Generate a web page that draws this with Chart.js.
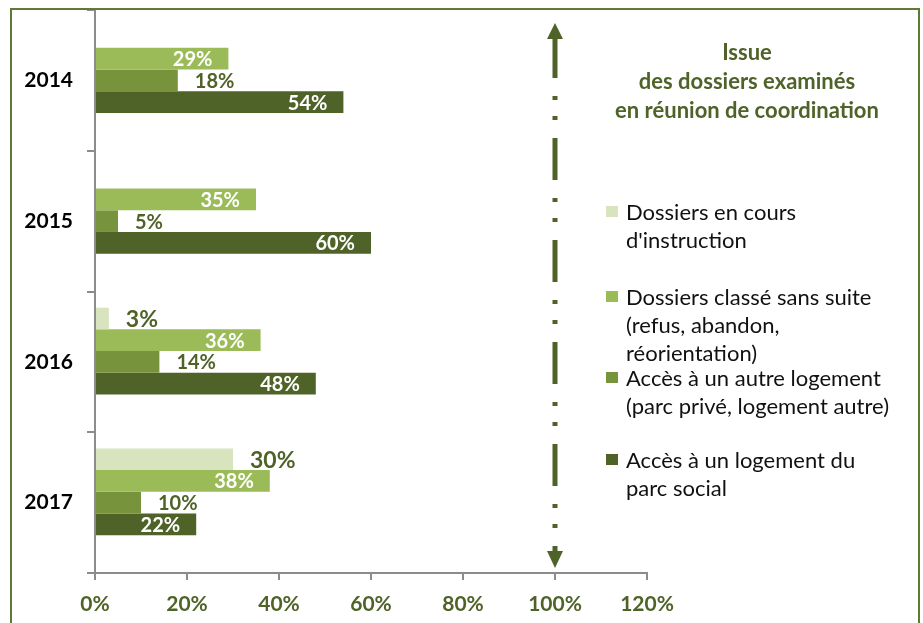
<!DOCTYPE html>
<html><head><meta charset="utf-8">
<script src="https://cdn.jsdelivr.net/npm/chart.js@4.4.1/dist/chart.umd.min.js"></script>
<style>html,body{margin:0;padding:0;background:#fff}#wrap{position:relative;width:923px;height:623px}</style>
</head><body><div id="wrap"><canvas id="c" width="923" height="623"></canvas></div>
<script>
const categories = ['2014', '2015', '2016', '2017'];
const enCours = [null, null, 3, 30];
const sansSuite = [29, 35, 36, 38];
const autreLogement = [18, 5, 14, 10];
const parcSocial = [54, 60, 48, 22];
const xTicks = [0, 20, 40, 60, 80, 100, 120];
const seriesNames = ["Dossiers en cours d'instruction", 'Dossiers classé sans suite (refus, abandon, réorientation)', 'Accès à un autre logement (parc privé, logement autre)', 'Accès à un logement du parc social'];
const legendLines = [
  ['Dossiers en cours', "d'instruction"],
  ['Dossiers classé sans suite', '(refus, abandon,', 'réorientation)'],
  ['Accès à un autre logement', '(parc privé, logement autre)'],
  ['Accès à un logement du', 'parc social']
];
const titleLines = ['Issue', 'des dossiers examinés', 'en réunion de coordination'];
const arrowValue = 100;

const COLORS = ['#d7e4bd', '#9bbb59', '#77933c', '#4f6228'];
const GREEN = '#4f6228';
const GREY = '#8c8c8c';
const FONT = 'Lato, "Open Sans", sans-serif';

const labelPlugin = {
  id: 'labels',
  afterDatasetsDraw(chart) {
    const ctx = chart.ctx;
    ctx.save();
    ctx.textBaseline = 'middle';
    chart.data.datasets.forEach((ds, di) => {
      if (di > 3) return;
      const meta = chart.getDatasetMeta(di);
      meta.data.forEach((el, i) => {
        const v = ds.data[i];
        if (v == null) return;
        const inside = (di === 1 || di === 3);
        ctx.font = (di === 0 ? 'bold 23px ' : 'bold 20px ') + FONT;
        if (inside) {
          ctx.fillStyle = '#ffffff';
          ctx.textAlign = 'right';
          ctx.fillText(Math.round(v) + '%', el.x - 16, el.y + 1);
        } else {
          ctx.fillStyle = GREEN;
          ctx.textAlign = 'left';
          ctx.fillText(Math.round(v) + '%', el.x + 17, el.y + 1);
        }
      });
    });
    ctx.restore();
  }
};

const decorPlugin = {
  id: 'decor',
  afterDraw(chart) {
    const ctx = chart.ctx;
    const xs = chart.scales.x;
    ctx.save();
    // outer frame
    ctx.strokeStyle = '#5f7a32';
    ctx.lineWidth = 2;
    ctx.strokeRect(11, 9, 908, 660);
    // dash-dot arrow at 100%
    const ax = xs.getPixelForValue(arrowValue);
    ctx.strokeStyle = GREEN;
    ctx.fillStyle = GREEN;
    ctx.lineWidth = 5;
    ctx.setLineDash([42, 18, 4, 16, 4, 18]);
    ctx.beginPath();
    ctx.moveTo(ax, 36);
    ctx.lineTo(ax, 552);
    ctx.stroke();
    ctx.setLineDash([]);
    ctx.beginPath();
    ctx.moveTo(ax, 23); ctx.lineTo(ax - 8, 39); ctx.lineTo(ax + 8, 39); ctx.closePath(); ctx.fill();
    ctx.beginPath();
    ctx.moveTo(ax, 568); ctx.lineTo(ax - 8, 551); ctx.lineTo(ax + 8, 551); ctx.closePath(); ctx.fill();
    // title
    ctx.font = 'bold 22px ' + FONT;
    ctx.textAlign = 'center';
    ctx.textBaseline = 'alphabetic';
    const tBase = [60, 89, 118];
    titleLines.forEach((t, i) => ctx.fillText(t, 747, tBase[i]));
    // legend
    ctx.font = '22px ' + FONT;
    ctx.textAlign = 'left';
    const firstBase = [220, 305, 386, 468];
    legendLines.forEach((lines, k) => {
      ctx.fillStyle = COLORS[k];
      ctx.fillRect(606, firstBase[k] - 14, 12, 11);
      ctx.fillStyle = '#111';
      lines.forEach((ln, j) => ctx.fillText(ln, 626, firstBase[k] + j * 28));
    });
    ctx.restore();
  }
};

new Chart(document.getElementById('c'), {
  type: 'bar',
  data: {
    labels: categories,
    datasets: [
      { label: seriesNames[0], data: enCours, backgroundColor: COLORS[0] },
      { label: seriesNames[1], data: sansSuite, backgroundColor: COLORS[1] },
      { label: seriesNames[2], data: autreLogement, backgroundColor: COLORS[2] },
      { label: seriesNames[3], data: parcSocial, backgroundColor: COLORS[3] },
      { label: '', data: categories.map(() => null), backgroundColor: 'rgba(0,0,0,0)' }
    ]
  },
  options: {
    indexAxis: 'y',
    responsive: false,
    animation: false,
    devicePixelRatio: 1,
    categoryPercentage: 0.77,
    barPercentage: 1,
    layout: { padding: { left: 0, right: 276, top: 10, bottom: 0 } },
    plugins: { legend: { display: false }, tooltip: { enabled: false }, title: { display: false } },
    scales: {
      x: {
        type: 'linear', min: 0, max: 120,
        afterBuildTicks: (s) => { s.ticks = xTicks.map(v => ({ value: v })); },
        afterFit: (s) => { s.height = 50; },
        ticks: { callback: (v) => v + '%', color: GREEN, font: { family: FONT, size: 21, weight: 'bold' }, padding: 12, maxRotation: 0 },
        grid: { drawOnChartArea: false, drawTicks: true, tickLength: 7, color: GREY, lineWidth: 2 },
        border: { display: true, color: GREY, width: 2 }
      },
      y: {
        type: 'category',
        afterFit: (s) => { s.width = 95; s.paddingTop = 0; s.paddingBottom = 0; },
        ticks: { color: '#000', font: { family: FONT, size: 21, weight: 'bold' }, padding: 14 },
        grid: { offset: true, drawOnChartArea: false, drawTicks: true, tickLength: 8, color: GREY, lineWidth: 2 },
        border: { display: true, color: GREY, width: 2 }
      }
    }
  },
  plugins: [labelPlugin, decorPlugin]
});
</script>
</body></html>
